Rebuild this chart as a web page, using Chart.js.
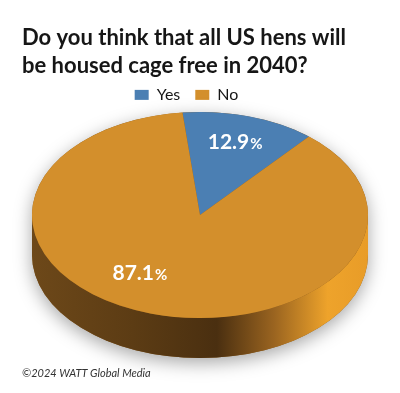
<!DOCTYPE html>
<html><head><meta charset="utf-8">
<script src="https://cdn.jsdelivr.net/npm/chart.js@4"></script>
<style>html,body{margin:0;padding:0;background:#fff}#wrap{width:400px;height:393px}</style>
</head><body><div id="wrap"><canvas id="c" width="400" height="393"></canvas></div>
<script>
const categories = ['Yes', 'No'];
const values = [12.9, 87.1];
const valueLabels = ['12.9', '87.1'];
const titleLines = ['Do you think that all US hens will', 'be housed cage free in 2040?'];
const footerText = '©2024 WATT Global Media';

const TOP_COLORS = ['#4b7fb3', '#d38f2c'];
const GEOM = { cx: 200, cy: 215, rx: 168, ry: 103, depth: 40 };
const LABEL_PLACE = [{ f: 0.74, da: -0.8 }, { f: 0.667, da: 15.2 }];

function sideFill(ctx, i, g) {
  const gr = ctx.createLinearGradient(g.cx - g.rx, 0, g.cx + g.rx, 0);
  if (i === 0) {
    gr.addColorStop(0, '#2c4a6b'); gr.addColorStop(1, '#4b7fb3');
  } else {
    gr.addColorStop(0, '#6d4819');
    gr.addColorStop(0.3, '#5c3c14');
    gr.addColorStop(0.55, '#4a2f10');
    gr.addColorStop(0.72, '#9a6420');
    gr.addColorStop(0.88, '#eea32b');
    gr.addColorStop(1, '#e89c28');
  }
  return gr;
}

const pie3d = {
  id: 'pie3d',
  beforeDatasetsDraw(chart) {
    const ctx = chart.ctx;
    const meta = chart.getDatasetMeta(0);
    const g = GEOM;
    ctx.save();
    ctx.save();
    ctx.shadowColor = 'rgba(0,0,0,0.35)';
    ctx.shadowBlur = 18;
    ctx.shadowOffsetY = 5;
    ctx.fillStyle = '#8a5a1c';
    ctx.beginPath();
    ctx.ellipse(g.cx, g.cy, g.rx, g.ry, 0, Math.PI, 2 * Math.PI);
    ctx.lineTo(g.cx + g.rx, g.cy + g.depth);
    ctx.ellipse(g.cx, g.cy + g.depth, g.rx, g.ry, 0, 0, Math.PI);
    ctx.closePath();
    ctx.fill();
    ctx.restore();
    meta.data.forEach((arc, i) => {
      const p = arc.getProps(['startAngle', 'endAngle'], true);
      [-2 * Math.PI, 0, 2 * Math.PI].forEach(k => {
        const a0 = Math.max(p.startAngle, k), a1 = Math.min(p.endAngle, k + Math.PI);
        if (a1 <= a0) return;
        ctx.beginPath();
        ctx.ellipse(g.cx, g.cy, g.rx, g.ry, 0, a0, a1);
        ctx.lineTo(g.cx + g.rx * Math.cos(a1), g.cy + g.depth + g.ry * Math.sin(a1));
        ctx.ellipse(g.cx, g.cy + g.depth, g.rx, g.ry, 0, a1, a0, true);
        ctx.closePath();
        ctx.fillStyle = sideFill(ctx, i, g);
        ctx.fill();
      });
    });
    const a = meta.data[0].getProps(['x', 'y', 'outerRadius'], true);
    ctx.translate(g.cx, g.cy);
    ctx.scale(g.rx / a.outerRadius, g.ry / a.outerRadius);
    ctx.translate(-a.x, -a.y);
  },
  afterDatasetsDraw(chart) {
    const ctx = chart.ctx;
    ctx.restore();
    const g = GEOM;
    const meta = chart.getDatasetMeta(0);
    meta.data.forEach((arc, i) => {
      const p = arc.getProps(['startAngle', 'endAngle'], true);
      const pl = LABEL_PLACE[i];
      const th = (p.startAngle + p.endAngle) / 2 + pl.da * Math.PI / 180;
      const x = g.cx + g.rx * pl.f * Math.cos(th);
      const y = g.cy + g.ry * pl.f * Math.sin(th);
      ctx.save();
      ctx.fillStyle = '#ffffff';
      ctx.textBaseline = 'alphabetic';
      const f1 = 'bold 21px Lato', f2 = 'bold 15px Lato';
      ctx.font = f1; const w1 = ctx.measureText(valueLabels[i]).width;
      ctx.font = f2; const w2 = ctx.measureText('%').width;
      const sx = x - (w1 + w2 + 1) / 2;
      ctx.font = f1; ctx.fillText(valueLabels[i], sx, y + 7);
      ctx.font = f2; ctx.fillText('%', sx + w1 + 1, y + 7);
      ctx.restore();
    });
  }
};

new Chart(document.getElementById('c'), {
  type: 'pie',
  data: {
    labels: categories,
    datasets: [{ data: values, backgroundColor: TOP_COLORS, borderWidth: 0 }]
  },
  options: {
    responsive: false,
    animation: false,
    rotation: -6,
    layout: { padding: { left: 22, right: 49, top: 0, bottom: 8 } },
    plugins: {
      title: {
        display: true,
        text: titleLines,
        align: 'start',
        color: '#161616',
        font: { family: 'Lato', size: 22, weight: 'bold', lineHeight: 1.27 },
        padding: { top: 24, bottom: -8 }
      },
      legend: {
        display: true,
        position: 'top',
        labels: {
          boxWidth: 14, boxHeight: 10,
          color: '#161616',
          font: { family: 'Lato', size: 16 },
          padding: 15
        }
      },
      subtitle: {
        display: true,
        text: footerText,
        position: 'bottom',
        align: 'start',
        color: '#333',
        font: { family: 'Lato', size: 11, style: 'italic' },
        padding: { top: 4, bottom: 5 }
      },
      tooltip: { enabled: false }
    }
  },
  plugins: [pie3d]
});
</script></body></html>
